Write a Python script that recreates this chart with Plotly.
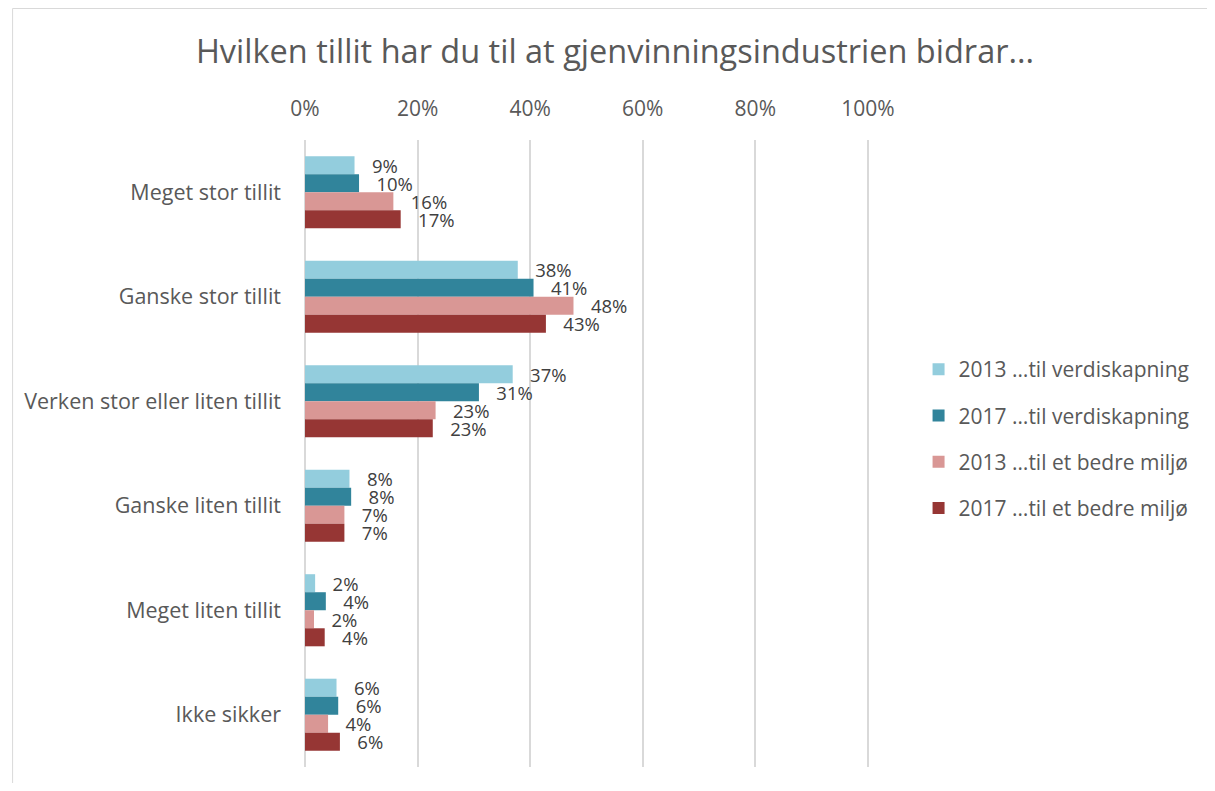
import plotly.graph_objects as go

categories = ["Meget stor tillit", "Ganske stor tillit", "Verken stor eller liten tillit",
              "Ganske liten tillit", "Meget liten tillit", "Ikke sikker"]
series_names = ["2013 …til verdiskapning", "2017 …til verdiskapning",
                "2013 …til et bedre miljø", "2017 …til et bedre miljø"]
v2013_verdi = [0.088, 0.378, 0.369, 0.079, 0.018, 0.056]
v2017_verdi = [0.096, 0.406, 0.309, 0.082, 0.037, 0.059]
v2013_miljo = [0.157, 0.477, 0.232, 0.070, 0.016, 0.041]
v2017_miljo = [0.170, 0.428, 0.227, 0.070, 0.035, 0.062]
colors = ["#93CDDD", "#31849B", "#D99795", "#963634"]
tick_vals = [0, 0.2, 0.4, 0.6, 0.8, 1.0]
tick_text = ["0%", "20%", "40%", "60%", "80%", "100%"]

# figure drawn inside page with ~8px body margin
W, H = 1199, 775
L, R, T, B = 297, 333, 132, 16
FONT = "Open Sans"
GREY = "#595959"

fig = go.Figure()
for name, vals, col in zip(series_names, [v2013_verdi, v2017_verdi, v2013_miljo, v2017_miljo], colors):
    fig.add_trace(go.Bar(
        y=categories, x=vals, name=name, orientation="h",
        marker=dict(color=col, line=dict(width=0)),
        text=["   " + f"{v*100:.0f}%" for v in vals],
        textposition="outside", cliponaxis=False, constraintext="none",
        textfont=dict(family=FONT, size=18.5, color="#404040"),
        legendgroup=name,
    ))

pw = W - L - R
ph = H - T - B
def px_x(p):
    return (p - L) / pw
def px_y(p):
    return (H - B - p) / ph

fig.update_layout(
    width=W, height=H,
    margin=dict(l=L, r=R, t=T, b=B),
    paper_bgcolor="white", plot_bgcolor="white",
    barmode="group", bargap=0.31, bargroupgap=0,
    title=dict(text="Hvilken tillit har du til at gjenvinningsindustrien bidrar...",
               x=607 / W, xanchor="center", y=1 - 44 / H, yanchor="middle",
               font=dict(family=FONT, size=32.5, color=GREY)),
    xaxis=dict(side="top", range=[0, 1.002], tickvals=tick_vals, ticktext=tick_text,
               showgrid=True, gridcolor="#D9D9D9", gridwidth=2, zeroline=False,
               showline=False, ticks="", ticklen=0, ticklabelstandoff=19,
               tickfont=dict(family=FONT, size=21, color=GREY)),
    yaxis=dict(autorange="reversed", showgrid=False, zeroline=False, showline=False,
               ticks="", ticklabelstandoff=23,
               tickfont=dict(family=FONT, size=21.5, color=GREY)),
    legend=dict(x=px_x(916), y=px_y(431), xanchor="left", yanchor="middle",
                font=dict(family=FONT, size=21, color=GREY),
                tracegroupgap=16, itemwidth=30, bgcolor="rgba(0,0,0,0)"),
    showlegend=True,
    shapes=[dict(type="line", xref="paper", yref="paper",
                 x0=0, x1=0, y0=0, y1=1, line=dict(color="#D9D9D9", width=2), layer="below"),
            dict(type="rect", xref="paper", yref="paper",
                 x0=px_x(2), x1=px_x(1230), y0=px_y(810), y1=px_y(0.5),
                 line=dict(color="#D9D9D9", width=1), layer="below")],
)

fig.write_html("out.html")
